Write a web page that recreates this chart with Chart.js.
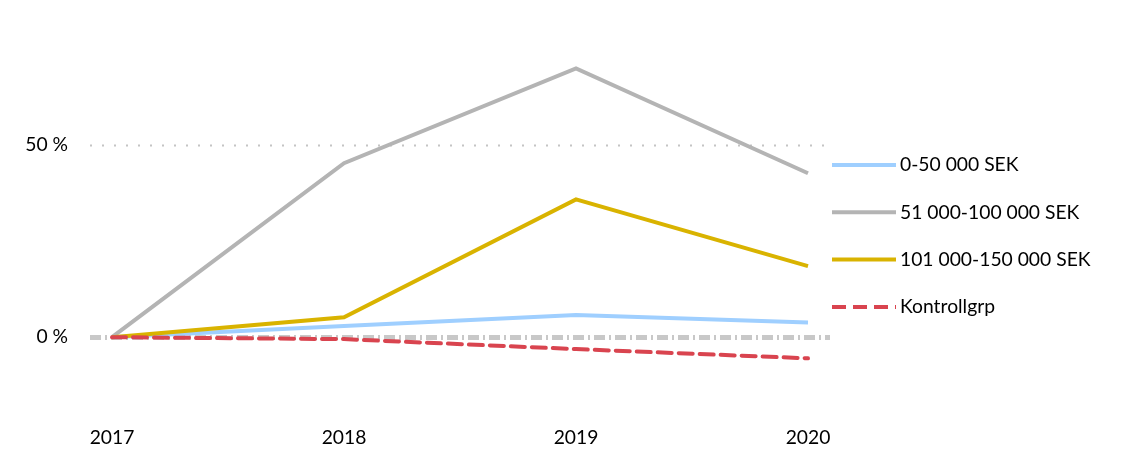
<!DOCTYPE html>
<html>
<head>
<meta charset="utf-8">
<script src="https://cdn.jsdelivr.net/npm/chart.js@4"></script>
<style>
  html, body { margin: 0; padding: 0; background: #fff; }
  #wrap { width: 1124px; height: 449px; }
</style>
</head>
<body>
<div id="wrap"><canvas id="chart"></canvas></div>
<script>
// values (percent)
const years = ['2017', '2018', '2019', '2020'];
const seriesNames = ['0-50 000 SEK', '51 000-100 000 SEK', '101 000-150 000 SEK', 'Kontrollgrp'];
const low = [0, 2.9, 5.8, 3.8];
const mid = [0, 45.3, 70.0, 42.7];
const high = [0, 5.2, 35.9, 18.5];
const control = [0, -0.5, -3.1, -5.5];
const yTicks = [0, 50];

const FONT = 'Lato, "Noto Sans", sans-serif';
const FONT_SIZE = 19.3;
const toPoints = arr => arr.map((v, i) => ({ x: i, y: v }));

// custom grid lines: dotted at 50 %, dash-dot at 0 %
const gridPlugin = {
  id: 'customGrid',
  beforeDatasetsDraw(chart) {
    const { ctx, chartArea, scales } = chart;
    ctx.save();
    yTicks.forEach(t => {
      const y = Math.round(scales.y.getPixelForValue(t)) + 0.5;
      ctx.beginPath();
      if (t === 0) {
        ctx.strokeStyle = '#c8c8c8';
        ctx.lineWidth = 5;
        ctx.setLineDash([11, 4, 2, 4]);
      } else {
        ctx.strokeStyle = '#c4c4c4';
        ctx.lineWidth = 2;
        ctx.setLineDash([2, 10]);
      }
      ctx.moveTo(chartArea.left, y);
      ctx.lineTo(chartArea.right, y);
      ctx.stroke();
    });
    ctx.restore();
  }
};

// legend drawn to the right of the plot
const legendPlugin = {
  id: 'sideLegend',
  afterDraw(chart) {
    const { ctx, chartArea } = chart;
    ctx.save();
    ctx.font = FONT_SIZE + 'px ' + FONT;
    ctx.textBaseline = 'middle';
    ctx.fillStyle = '#000';
    chart.data.datasets.forEach((ds, i) => {
      const y = 165 + i * 47.3;
      const x0 = chartArea.right + 2;
      ctx.beginPath();
      ctx.strokeStyle = ds.borderColor;
      ctx.lineWidth = ds.borderWidth;
      ctx.setLineDash(ds.borderDash || []);
      ctx.moveTo(x0, y);
      ctx.lineTo(x0 + 64, y);
      ctx.stroke();
      ctx.setLineDash([]);
      ctx.fillText(ds.label, x0 + 68, y);
    });
    ctx.restore();
  }
};

const ctx = document.getElementById('chart').getContext('2d');
const chart = new Chart(ctx, {
  type: 'line',
  data: {
    datasets: [
      { label: seriesNames[0], data: toPoints(low), borderColor: '#9fcfff', borderWidth: 4, order: 2 },
      { label: seriesNames[1], data: toPoints(mid), borderColor: '#b4b4b4', borderWidth: 4, order: 3 },
      { label: seriesNames[2], data: toPoints(high), borderColor: '#d9b300', borderWidth: 4, order: 1 },
      { label: seriesNames[3], data: toPoints(control), borderColor: '#d9444f', borderWidth: 4, borderDash: [14, 7], borderCapStyle: 'round', order: 0 }
    ]
  },
  options: {
    responsive: true,
    maintainAspectRatio: false,
    animation: false,
    layout: { padding: { left: 0, right: 294, top: 30, bottom: 0 } },
    elements: { point: { radius: 0 }, line: { tension: 0, fill: false } },
    plugins: {
      legend: { display: false },
      tooltip: { enabled: false }
    },
    scales: {
      x: {
        type: 'linear',
        min: -22 / 232,
        max: 3 + 22 / 232,
        grid: { display: false, drawTicks: false, tickLength: 0 },
        border: { display: false },
        afterBuildTicks: scale => { scale.ticks = years.map((y, i) => ({ value: i })); },
        afterFit: scale => { scale.height = 35; scale.paddingLeft = 0; scale.paddingRight = 0; },
        ticks: {
          autoSkip: false,
          maxRotation: 0,
          padding: 12,
          color: '#000',
          font: { family: FONT, size: FONT_SIZE },
          callback: v => years[v]
        }
      },
      y: {
        min: -20,
        max: 80,
        grid: { display: false, drawTicks: false, tickLength: 0 },
        border: { display: false },
        afterBuildTicks: scale => { scale.ticks = yTicks.map(v => ({ value: v })); },
        afterFit: scale => { scale.width = 90; scale.paddingTop = 0; scale.paddingBottom = 0; },
        ticks: {
          padding: 22,
          color: '#000',
          font: { family: FONT, size: FONT_SIZE },
          callback: v => v + ' %'
        }
      }
    }
  },
  plugins: [gridPlugin, legendPlugin]
});
</script>
</body>
</html>
